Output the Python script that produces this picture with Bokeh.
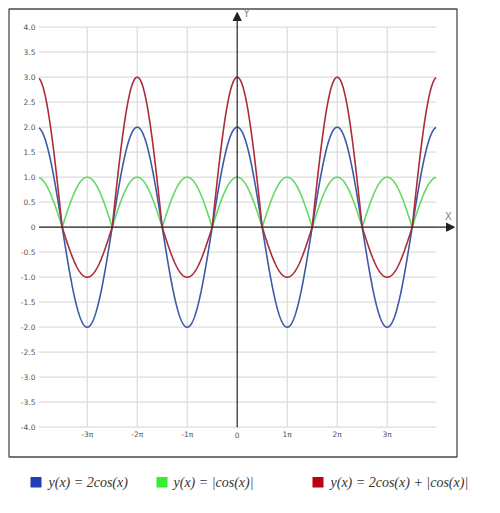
import numpy as np
from bokeh.plotting import figure
from bokeh.models import Range1d, Arrow, NormalHead
from bokeh.core.properties import value
from bokeh.embed import file_html
from bokeh.resources import INLINE

PI = np.pi

# ---- data -------------------------------------------------------------
x_start, x_end = -12.45, 12.5
x = np.linspace(x_start, x_end, 1200)
y_blue = 2 * np.cos(x)                    # y(x) = 2cos(x)
y_green = np.abs(np.cos(x))               # y(x) = |cos(x)|
y_red = 2 * np.cos(x) + np.abs(np.cos(x))  # y(x) = 2cos(x) + |cos(x)|

x_tick_mult = [-3, -2, -1, 0, 1, 2, 3]
x_tick_labels = ["-3π", "-2π", "-1π", "0", "1π", "2π", "3π"]
y_ticks = [-4.0, -3.5, -3.0, -2.5, -2.0, -1.5, -1.0, -0.5, 0.0,
           0.5, 1.0, 1.5, 2.0, 2.5, 3.0, 3.5, 4.0]
y_tick_labels = ["-4.0", "-3.5", "-3.0", "-2.5", "-2.0", "-1.5", "-1.0", "-0.5", "0",
                 "0.5", "1.0", "1.5", "2.0", "2.5", "3.0", "3.5", "4.0"]

legend_labels = ["y(x) = 2cos(x)", "y(x) = |cos(x)|", "y(x) = 2cos(x) + |cos(x)|"]
legend_colors = ["#1f3fb8", "#33ee33", "#bb0011"]
line_colors = ["#3d5aa8", "#66d866", "#aa2d38"]

# ---- layout (screen pixels -> data) -----------------------------------
W, H = 492, 505
ORIGIN_X, ORIGIN_Y = 236.7, 226.7   # px of (0,0)
UNIT_Y = 50.0                       # px per y unit
UNIT_X = 50.0 / PI                  # px per radian


def cx(px):
    return (px - ORIGIN_X) / UNIT_X


def cy(py):
    return (ORIGIN_Y - py) / UNIT_Y


p = figure(width=W, height=H, output_backend="svg", toolbar_location=None,
           x_range=Range1d(cx(0), cx(W)), y_range=Range1d(cy(H), cy(0)),
           min_border=0, min_border_left=0, min_border_right=0,
           min_border_top=0, min_border_bottom=0)
p.axis.visible = False
p.grid.visible = False
p.outline_line_color = None
p.background_fill_color = "white"
p.border_fill_color = "white"

# outer box
p.quad(left=[cx(8.5)], right=[cx(456.5)], top=[cy(8.5)], bottom=[cy(456.5)],
       fill_color=None, line_color="#4a4a4a", line_width=1.3)

# grid
gx0, gx1 = x_start, x_end
p.segment(x0=[gx0] * len(y_ticks), x1=[gx1] * len(y_ticks), y0=y_ticks, y1=y_ticks,
          line_color="#dcdcdc", line_width=1.2)
vx = [m * PI for m in x_tick_mult if m != 0]
p.segment(x0=vx, x1=vx, y0=[-4] * len(vx), y1=[4] * len(vx),
          line_color="#dcdcdc", line_width=1.2)

# curves
p.line(x, y_green, line_color=line_colors[1], line_width=1.6)
p.line(x, y_blue, line_color=line_colors[0], line_width=1.6)
p.line(x, y_red, line_color=line_colors[2], line_width=1.6)

# axes with arrows
p.add_layout(Arrow(x_start=gx0, y_start=0, x_end=cx(454), y_end=0,
                   line_color="#222222", line_width=1.2,
                   end=NormalHead(size=8, line_color="#222222", fill_color="#222222")))
p.add_layout(Arrow(x_start=0, y_start=-4, x_end=0, y_end=cy(12),
                   line_color="#222222", line_width=1.2,
                   end=NormalHead(size=8, line_color="#222222", fill_color="#222222")))
p.text(x=[cx(243)], y=[cy(13)], text=["Y"], text_font_size="10px",
       text_color="#888888", text_align="left", text_baseline="middle",
       text_font=value("DejaVu Sans"))
p.text(x=[cx(448)], y=[cy(216)], text=["X"], text_font_size="10px",
       text_color="#888888", text_align="center", text_baseline="middle",
       text_font=value("DejaVu Sans"))

# tick labels
p.text(x=[cx(35)] * len(y_ticks), y=y_ticks, text=y_tick_labels,
       text_font_size="7.5px", text_color="#555555", text_align="right",
       text_baseline="middle", text_font=value("DejaVu Sans"))
p.text(x=[m * PI for m in x_tick_mult], y=[cy(434)] * len(x_tick_mult),
       text=x_tick_labels, text_font_size="7.5px", text_color="#555555",
       text_align="center", text_baseline="middle", text_font=value("DejaVu Sans"))

# legend
sq_px = [30, 156, 312]
txt_px = [48, 173, 330]
ly = cy(481.7)
for sx, tx, lab, col in zip(sq_px, txt_px, legend_labels, legend_colors):
    p.quad(left=[cx(sx)], right=[cx(sx + 11)], top=[cy(476.5)], bottom=[cy(487)],
           fill_color=col, line_color=None)
    p.text(x=[cx(tx)], y=[ly], text=[lab], text_font_size="14px",
           text_color="#333333", text_align="left", text_baseline="middle",
           text_font=value("Liberation Serif"), text_font_style="italic")

open("out.html", "w").write(file_html(p, INLINE))
